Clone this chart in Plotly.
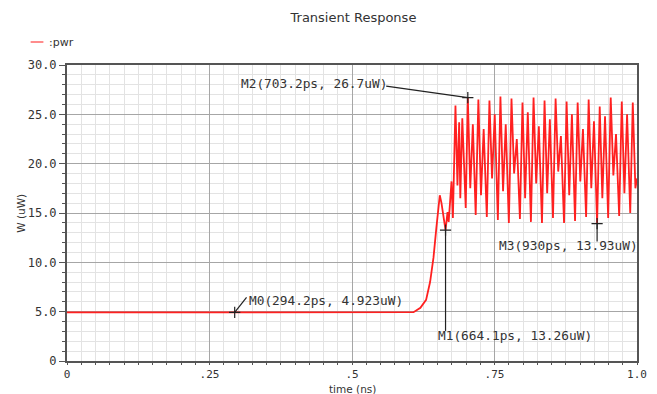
import plotly.graph_objects as go

# ---------------- data ----------------
time_ns = [
    0.000, 0.600, 0.608, 0.620, 0.630, 0.637, 0.643, 0.648, 0.651, 0.654,
    0.657, 0.661, 0.6641, 0.6676, 0.6696, 0.6746, 0.6770, 0.6815, 0.6850, 0.6880,
    0.6900, 0.6935, 0.6964, 0.6995, 0.7032, 0.7075, 0.7120, 0.7170,
    0.7217, 0.7263, 0.7310, 0.7365,
    0.7411, 0.7457, 0.7504, 0.7559,
    0.7604, 0.7650, 0.7697, 0.7752,
    0.7798, 0.7844, 0.7891, 0.7946,
    0.7991, 0.8037, 0.8084, 0.8139,
    0.8185, 0.8231, 0.8278, 0.8333,
    0.8378, 0.8424, 0.8471, 0.8526,
    0.8572, 0.8618, 0.8665, 0.8720,
    0.8765, 0.8811, 0.8858, 0.8913,
    0.8959, 0.9005, 0.9052, 0.9107,
    0.9152, 0.9198, 0.9245, 0.9300,
    0.9346, 0.9392, 0.9439, 0.9494,
    0.9539, 0.9585, 0.9632, 0.9687,
    0.9733, 0.9779, 0.9826, 0.9881,
    0.9926, 0.9972, 1.000,
]
power_uW = [
    4.923, 4.923, 4.95, 5.4, 6.2, 8.0, 10.5, 13.5, 15.5, 16.8,
    16.0, 14.2, 13.26, 15.1, 14.1, 18.2, 14.5, 25.9, 17.8, 24.2,
    16.5, 24.6, 19.9, 15.5, 26.7, 17.5, 24.0, 14.8,
    26.5, 16.8, 23.5, 14.6,
    26.4, 18.5, 25.0, 14.3,
    26.8, 17.2, 24.0, 14.0,
    26.6, 19.0, 22.5, 14.4,
    26.2, 16.5, 25.2, 14.1,
    26.7, 18.0, 23.8, 14.0,
    26.4, 17.0, 24.5, 14.5,
    26.6, 19.2, 22.8, 14.0,
    26.3, 16.8, 25.0, 14.2,
    26.2, 18.2, 23.5, 14.6,
    26.5, 17.5, 24.3, 13.93,
    25.8, 16.5, 24.8, 14.5,
    26.7, 18.8, 23.0, 14.7,
    26.3, 17.0, 25.0, 15.0,
    26.2, 17.5, 18.5,
]

marker_names = ["M0", "M1", "M2", "M3"]
marker_t = [0.2942, 0.6641, 0.7032, 0.930]
marker_v = [4.923, 13.26, 26.7, 13.93]
marker_labels = ["M0(294.2ps, 4.923uW)", "M1(664.1ps, 13.26uW)",
                 "M2(703.2ps, 26.7uW)", "M3(930ps, 13.93uW)"]

x_tickvals = [0, 0.25, 0.5, 0.75, 1.0]
x_ticktext = ["0", ".25", ".5", ".75", "1.0"]
y_tickvals = [0, 5, 10, 15, 20, 25, 30]
y_ticktext = ["0", "5.0", "10.0", "15.0", "20.0", "25.0", "30.0"]

# ---------------- styling ----------------
MONO = "DejaVu Sans Mono"
SANS = "DejaVu Sans"
TXT = "#333333"
FRAME = "#555555"

# label placement (layout): (anchor x, anchor y, xanchor, leader end x, leader end y)
label_pos = [
    (0.3150, 6.15, "left", 0.3150, 6.45),
    (0.6470, 2.62, "left", 0.6641, 3.05),
    (0.5650, 28.14, "right", 0.5600, 27.86),
    (0.7540, 11.75, "left", 0.9300, 12.10),
]

fig = go.Figure()
fig.add_trace(go.Scatter(
    x=time_ns, y=power_uW, mode="lines", name=":pwr",
    line=dict(color="#ff2020", width=1.8), showlegend=False,
))
fig.add_trace(go.Scatter(
    x=marker_t, y=marker_v, mode="markers", showlegend=False,
    marker=dict(symbol="cross-thin", size=8, line=dict(color="#222222", width=1.2)),
    hoverinfo="text", text=marker_names,
))

shapes = []
annotations = []
for (lx, ly, xa, ex, ey), mt, mv, lab in zip(label_pos, marker_t, marker_v, marker_labels):
    shapes.append(dict(type="line", xref="x", yref="y", x0=mt, y0=mv, x1=ex, y1=ey,
                       line=dict(color="#222222", width=1.2)))
    annotations.append(dict(x=lx, y=ly, xref="x", yref="y", text=lab, showarrow=False,
                            xanchor=xa, yanchor="middle",
                            font=dict(family=MONO, size=12.8, color=TXT)))

# manual legend
shapes.append(dict(type="line", xref="paper", yref="paper",
                   x0=-0.0638, x1=-0.0414, y0=1.0777, y1=1.0777,
                   line=dict(color="#ff6666", width=1.5)))
annotations.append(dict(x=-0.0355, y=1.0777, xref="paper", yref="paper", text=":pwr",
                        showarrow=False, xanchor="left", yanchor="middle",
                        font=dict(family=SANS, size=11, color=TXT)))
# axis titles
annotations.append(dict(x=0.5, y=-0.094, xref="paper", yref="paper", text="time (ns)",
                        showarrow=False, xanchor="center", yanchor="middle",
                        font=dict(family=SANS, size=10.5, color=TXT)))
annotations.append(dict(x=-0.081, y=0.5, xref="paper", yref="paper", text="W (uW)",
                        showarrow=False, xanchor="center", yanchor="middle", textangle=-90,
                        font=dict(family=SANS, size=10.5, color=TXT)))

axis_common = dict(
    showgrid=True, gridcolor="#a6a6a6", gridwidth=1,
    showline=True, linecolor=FRAME, linewidth=2, mirror=True,
    ticks="outside", tickcolor=FRAME, tickwidth=1,
    zeroline=False,
)

fig.update_layout(
    width=657, height=394,
    margin=dict(l=67, r=10, t=65, b=33),
    paper_bgcolor="white", plot_bgcolor="white",
    title=dict(text="Transient Response", x=0.538, xanchor="center",
               y=(394 - 17) / 394, yanchor="middle",
               font=dict(family=SANS, size=13, color=TXT)),
    xaxis=dict(range=[0, 1.0], tickmode="array", tickvals=x_tickvals, ticktext=x_ticktext,
               ticklen=2, tickfont=dict(family=MONO, size=11, color=TXT),
               minor=dict(tick0=0, dtick=0.025, showgrid=True, gridcolor="#e3e3e3",
                          ticks="outside", ticklen=2, tickcolor=FRAME),
               **axis_common),
    yaxis=dict(range=[0, 30], tickmode="array", tickvals=y_tickvals, ticktext=y_ticktext,
               ticklen=6, tickfont=dict(family=MONO, size=12, color=TXT),
               minor=dict(tick0=0, dtick=1, showgrid=True, gridcolor="#e3e3e3",
                          ticks="outside", ticklen=3, tickcolor=FRAME),
               **axis_common),
    shapes=shapes,
    annotations=annotations,
)

fig.write_html("out.html")
